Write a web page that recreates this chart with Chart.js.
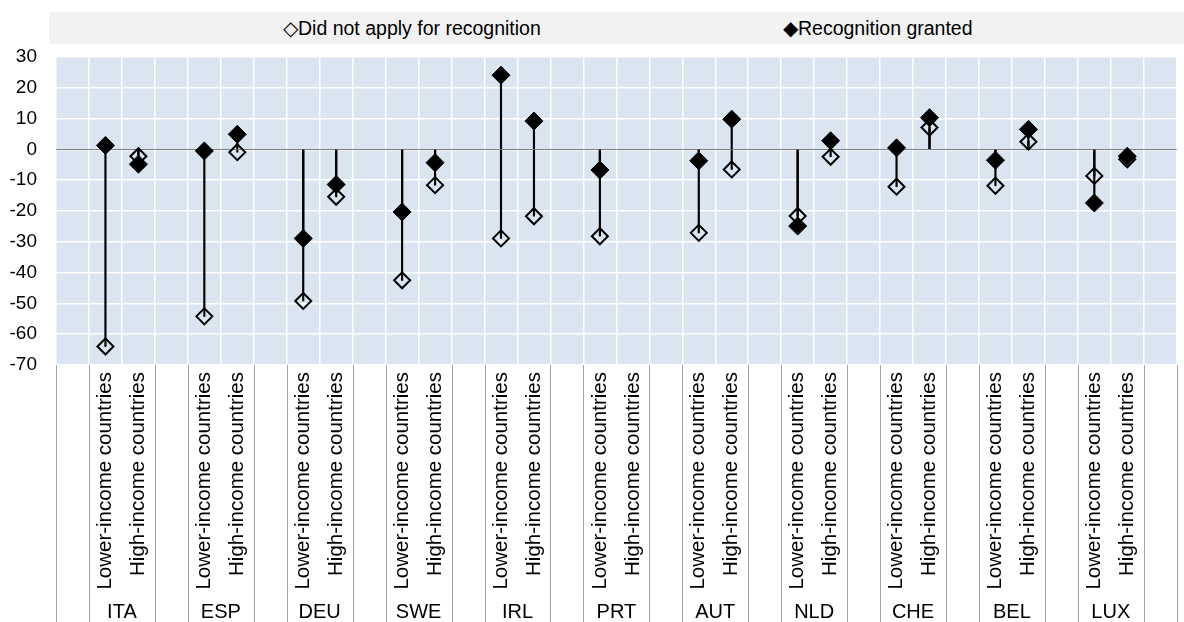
<!DOCTYPE html>
<html><head><meta charset="utf-8">
<script src="https://cdn.jsdelivr.net/npm/chart.js@4/dist/chart.umd.min.js"></script>
<style>
html,body{margin:0;padding:0;background:#fff;overflow:hidden;}
#wrap{position:relative;width:1192px;height:622px;}
canvas{position:absolute;left:0;top:0;}
#legend{position:absolute;left:49px;top:12px;width:1143px;height:32px;background:#f2f2f2;font-family:'Liberation Sans',Arial,sans-serif;font-size:19.5px;color:#000;}
#legend span{position:absolute;top:0;line-height:32px;white-space:nowrap;}
</style></head><body>
<div id="wrap"><canvas id="c" width="1192" height="622"></canvas><div id="legend"></div></div>
<script>
const countries = ['ITA','ESP','DEU','SWE','IRL','PRT','AUT','NLD','CHE','BEL','LUX'];
const incomeGroups = ['Lower-income countries','High-income countries'];
const seriesNames = ['Did not apply for recognition','Recognition granted'];
const legendSymbols = ['\u25C7','\u25C6'];
// values ordered per country: [Lower-income, High-income]
const didNotApply = [-64,-2.2, -54.2,-0.9, -49.2,-15.4, -42.5,-11.6, -28.9,-21.7, -28.2,null, -27.1,-6.5, -21.6,-2.4, -12.1,7.1, -11.8,2.5, -8.6,-3.2];
const recognitionGranted = [1.3,-4.8, -0.5,4.9, -28.9,-11.4, -20.3,-4.3, 24.1,9.2, -6.7,null, -3.7,9.8, -24.9,2.8, 0.5,10.3, -3.5,6.5, -17.4,-2.2];
const yMin = -70, yMax = 30, yStep = 10;

// build slot table: blank, (L, H, blank) per country
const slotLabels = [''], slotGroups = [''], slotDNA = [null], slotRG = [null];
countries.forEach((c, i) => {
  incomeGroups.forEach((g, j) => {
    slotLabels.push(g); slotGroups.push(c);
    slotDNA.push(didNotApply[i * 2 + j]);
    slotRG.push(recognitionGranted[i * 2 + j]);
  });
  slotLabels.push(''); slotGroups.push(''); slotDNA.push(null); slotRG.push(null);
});

// HTML legend
const legendEl = document.getElementById('legend');
const legendLeft = [234, 734];
seriesNames.forEach((n, i) => {
  const s = document.createElement('span');
  s.textContent = legendSymbols[i] + n;
  s.style.left = legendLeft[i] + 'px';
  legendEl.appendChild(s);
});

const FONT = "'Liberation Sans', Arial, sans-serif";

const bgPlugin = {
  id: 'bg',
  beforeDraw(chart) {
    const { ctx, chartArea: a } = chart;
    ctx.save();
    ctx.fillStyle = '#dbe5f1';
    ctx.fillRect(a.left, a.top, a.right - a.left, a.bottom - a.top);
    ctx.restore();
  },
  beforeDatasetsDraw(chart) {
    const { ctx, chartArea: a, scales: { y } } = chart;
    const y0 = Math.round(y.getPixelForValue(0)) + 0.5;
    ctx.save();
    ctx.strokeStyle = '#7f7f7f';
    ctx.lineWidth = 1;
    ctx.beginPath(); ctx.moveTo(a.left, y0); ctx.lineTo(a.right, y0); ctx.stroke();
    ctx.restore();
  },
  afterDraw(chart) {
    const { ctx, chartArea: a, scales: { x } } = chart;
    const half = (x.getPixelForValue(1) - x.getPixelForValue(0)) / 2;
    ctx.save();
    ctx.strokeStyle = '#a6a6a6';
    ctx.lineWidth = 1;
    const H = chart.height;
    slotGroups.forEach((g, i) => {
      if (g === '') {
        const px = x.getPixelForValue(i);
        [px - half, px + half].forEach(xx => {
          const xr = Math.round(xx) + 0.5;
          ctx.beginPath(); ctx.moveTo(xr, a.bottom); ctx.lineTo(xr, H); ctx.stroke();
        });
      }
    });
    ctx.fillStyle = '#000';
    ctx.font = '20px ' + FONT;
    ctx.textAlign = 'center';
    ctx.textBaseline = 'middle';
    slotGroups.forEach((g, i) => {
      if (g !== '' && slotLabels[i] === incomeGroups[0]) {
        const cx = (x.getPixelForValue(i) + x.getPixelForValue(i + 1)) / 2;
        ctx.fillText(g, cx, 612);
      }
    });
    ctx.restore();
  }
};

new Chart(document.getElementById('c'), {
  type: 'bar',
  data: {
    labels: slotLabels,
    datasets: [
      { type: 'line', label: seriesNames[1], data: slotRG, showLine: false,
        pointStyle: 'rectRot', pointRadius: 9, pointHoverRadius: 9, pointBorderWidth: 1,
        pointBackgroundColor: '#000', pointBorderColor: '#000', order: 0 },
      { type: 'line', label: seriesNames[0], data: slotDNA, showLine: false,
        pointStyle: 'rectRot', pointRadius: 8, pointHoverRadius: 8, pointBorderWidth: 2,
        pointBackgroundColor: 'rgba(0,0,0,0)', pointBorderColor: '#000', order: 1 },
      { type: 'bar', label: 'stem1', data: slotDNA, backgroundColor: '#000', barThickness: 1.5, grouped: false, order: 2 },
      { type: 'bar', label: 'stem2', data: slotRG, backgroundColor: '#000', barThickness: 1.5, grouped: false, order: 3 }
    ]
  },
  options: {
    responsive: false,
    animation: false,
    devicePixelRatio: 1,
    layout: { padding: { top: 57, left: 0, right: 0, bottom: 0 } },
    plugins: { legend: { display: false }, tooltip: { enabled: false } },
    scales: {
      x: {
        type: 'category', offset: true,
        grid: { offset: true, color: '#ffffff', lineWidth: 1.5, drawTicks: false },
        border: { display: false },
        ticks: { autoSkip: false, minRotation: 90, maxRotation: 90, padding: 7,
                 color: '#000', font: { family: FONT, size: 20.5 } },
        afterFit(s) { s.height = 257; }
      },
      y: {
        min: yMin, max: yMax,
        grid: { color: '#ffffff', lineWidth: 1.5, drawTicks: false },
        border: { display: false },
        ticks: { stepSize: yStep, padding: 19, color: '#000', font: { family: FONT, size: 19 } },
        afterFit(s) { s.width = 56; }
      }
    }
  },
  plugins: [bgPlugin]
});
</script>
</body></html>
